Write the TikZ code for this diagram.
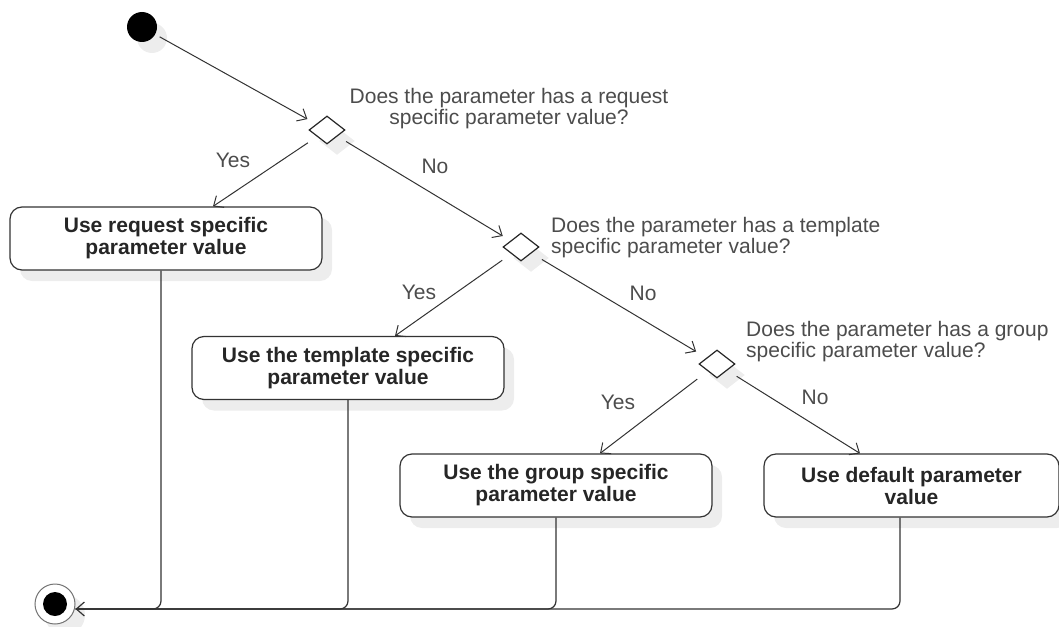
\documentclass[tikz,border=0pt]{standalone}
\usepackage{fontspec}
\setmainfont{Liberation Sans}
\usetikzlibrary{shapes.geometric,arrows.meta,shadows}

\begin{document}
\begin{tikzpicture}[x=1pt,y=-1pt,
  font=\fontsize{21}{21}\selectfont,
  shade/.style={drop shadow={shadow xshift=10pt,shadow yshift=-11pt,fill=black!7,opacity=1}},
  action/.style={draw=black!80, line width=1.2pt, fill=white, rounded corners=12pt,
    minimum width=312pt, minimum height=63pt, inner sep=0pt, align=center,
    font=\fontsize{21}{22}\selectfont\bfseries, text=black!85, shade},
  decision/.style={draw=black!85, line width=1.2pt, fill=white, diamond,
    minimum width=36pt, minimum height=28pt, inner sep=0pt, shade},
  flow/.style={draw=black!80, line width=1pt, -{Straight Barb[length=8pt,width=14pt]}},
  bus/.style={draw=black!80, line width=1.2pt, rounded corners=8pt},
  guard/.style={text=black!70, inner sep=0pt},
  question/.style={text=black!70, inner sep=0pt}
]
\useasboundingbox (0,0) rectangle (1059,626);

% initial and final states
\node[circle, fill=black, minimum size=30pt, inner sep=0pt, shade] (start) at (142,27) {};
\node[circle, draw=black!55, line width=1pt, fill=white, minimum size=40pt, inner sep=0pt, shade] (end) at (55,604) {};
\node[circle, fill=black, minimum size=24pt, inner sep=0pt] (endcore) at (end) {};

% decisions
\node[decision] (d1) at (327,130) {};
\node[decision] (d2) at (521,247) {};
\node[decision] (d3) at (717,364) {};

\node[question, align=center] (q1) at (509,109) {Does the parameter has a request\\specific parameter value?};
\node[question, align=left, anchor=west] (q2) at (551,238) {Does the parameter has a template\\specific parameter value?};
\node[question, align=left, anchor=west] (q3) at (746,342) {Does the parameter has a group\\specific parameter value?};

% actions
\node[action] (b1) at (166,238.5) {Use request specific\\parameter value};
\node[action] (b2) at (348,368) {Use the template specific\\parameter value};
\node[action] (b3) at (556,485.5) {Use the group specific\\parameter value};
\node[action, minimum width=295pt] (b4) at (911.5,485.5) {Use default parameter\\value};

% guards
\node[guard] (y1) at (233,160) {Yes};
\node[guard] (n1) at (435,166) {No};
\node[guard] (y2) at (419,292) {Yes};
\node[guard] (n2) at (643,293) {No};
\node[guard] (y3) at (618,402) {Yes};
\node[guard] (n3) at (815,397) {No};

% control flow
\draw[flow, shorten <=5pt, shorten >=10pt] (start) -- (d1);
\draw[flow, shorten <=11pt] (d1) -- ([xshift=47pt]b1.north);
\draw[flow, shorten <=10pt, shorten >=9pt] (d1) -- (d2);
\draw[flow, shorten <=11pt] (d2) -- ([xshift=47pt]b2.north);
\draw[flow, shorten <=12pt, shorten >=12pt] (d2) -- (d3);
\draw[flow, shorten <=13pt] (d3) -- ([xshift=44pt]b3.north);
\draw[flow, shorten <=11pt] (d3) -- ([xshift=-51.5pt]b4.north);

% merge into the final state
\coordinate (tip) at ([yshift=-5pt]end.east);
\draw[bus] ([xshift=-5pt]b1.south) |- (tip);
\draw[bus] (b2.south) |- (tip);
\draw[bus] (b3.south) |- (tip);
\draw[bus, -{Straight Barb[length=8pt,width=14pt]}] ([xshift=-11.5pt]b4.south) |- (tip);
\end{tikzpicture}
\end{document}
